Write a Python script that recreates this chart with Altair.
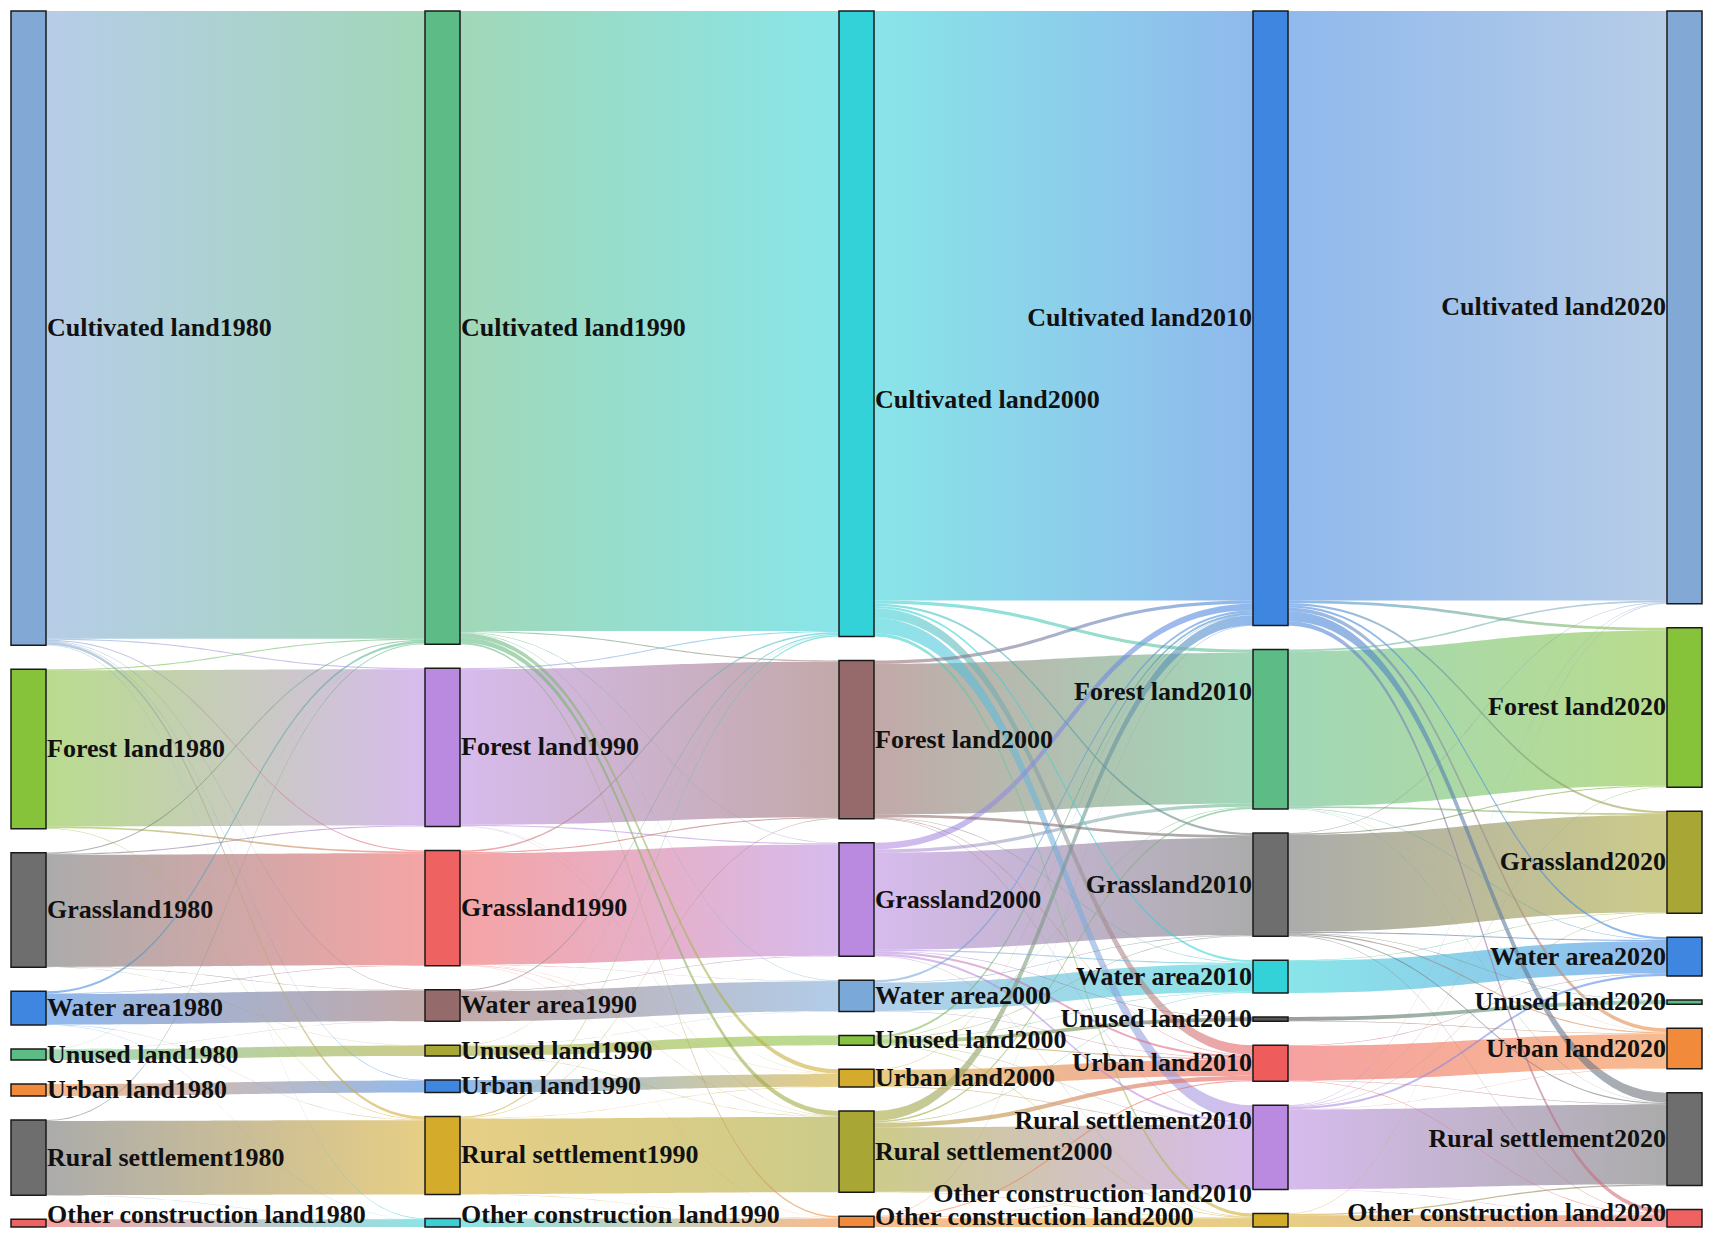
import altair as alt
import pandas as pd
import numpy as np

# ---------------- data ----------------
CATEGORIES = ["Cultivated land", "Forest land", "Grassland", "Water area",
              "Unused land", "Urban land", "Rural settlement", "Other construction land"]
YEARS = [1980, 1990, 2000, 2010, 2020]

# transition matrices (rows: source class, columns: target class), estimated areas
FLOW_1980_1990 = [
    [575, 1, 1, 0.5, 0, 0.5, 2.5, 0.5],
    [1, 143, 1.5, 0, 0, 0, 0.5, 0],
    [1, 1, 102.5, 0.3, 0.2, 0, 0, 0],
    [2, 0, 0.5, 28, 0, 0, 0.3, 0.2],
    [0.2, 0, 0, 0.2, 9.6, 0, 0, 0],
    [0, 0, 0, 0, 0, 11, 0, 0],
    [0.8, 0, 0, 0, 0, 0, 68, 0.2],
    [0, 0, 0, 0, 0, 0, 0, 7],
]
FLOW_1990_2000 = [
    [568, 1, 0.5, 0.5, 0, 4, 4.5, 1.5],
    [1, 142.5, 1, 0, 0, 0.2, 0.3, 0],
    [1.5, 1, 102, 0.3, 0, 0.2, 0.3, 0.2],
    [1, 0, 0.5, 27.5, 0, 0, 0, 0],
    [0.3, 0, 0, 0.2, 9, 0, 0.3, 0],
    [0, 0, 0, 0, 0, 11.5, 0, 0],
    [1.2, 0.5, 0, 0, 0, 0.3, 69, 0.3],
    [0, 0, 0, 0, 0, 0, 0, 7.9],
]
FLOW_2000_2010 = [
    [540, 3, 2, 2, 0, 9, 14, 3],
    [3, 138, 2.5, 0.5, 0, 0.5, 0.5, 0],
    [6, 3, 89, 1, 0.5, 2, 2, 0.5],
    [2, 0, 0.5, 25.5, 0, 0.5, 0, 0],
    [2, 0.5, 0.5, 0.5, 3.5, 1, 0.5, 0.5],
    [0.5, 0, 0, 0, 0, 15, 0.7, 0],
    [9, 1.5, 0, 0.5, 0, 4, 59, 0.4],
    [0.5, 0, 0, 0, 0, 1, 0.4, 8],
]
FLOW_2010_2020 = [
    [540, 2.5, 2, 2, 0, 3.5, 9, 4],
    [1.5, 142, 1.5, 0.5, 0, 0.2, 0.3, 0],
    [0.5, 1, 89, 1, 0.5, 1, 1, 0.5],
    [0, 0, 0.5, 29.5, 0, 0, 0, 0],
    [0, 0, 0, 0, 3.5, 0.5, 0, 0],
    [0, 0, 0, 0.5, 0, 31.5, 0.5, 0.5],
    [0.5, 0.5, 0.5, 2, 0, 0.3, 73, 0.3],
    [0.5, 0, 0, 0, 0, 0, 1.2, 10.7],
]
FLOWS = [FLOW_1980_1990, FLOW_1990_2000, FLOW_2000_2010, FLOW_2010_2020]

COLORS_1980 = ["#82a8d6", "#86c23a", "#6e6e6e", "#3f86e0", "#5dbb85", "#f28a3c", "#6e6e6e", "#ee6262"]
COLORS_1990 = ["#5dbb85", "#b98ae0", "#ee6262", "#956a6a", "#a8a634", "#3f86e0", "#d5ab2c", "#3ccfd5"]
COLORS_2000 = ["#33d2d8", "#966a6a", "#b98ae0", "#7aa8d8", "#86c240", "#d5ab2c", "#a8a634", "#f28a3c"]
COLORS_2010 = ["#3f86e0", "#5dbb85", "#6e6e6e", "#33d2d8", "#555555", "#ee5c5c", "#b98ae0", "#d5ab2c"]
COLORS_2020 = ["#82a8d6", "#86c23a", "#a8a634", "#3f86e0", "#5dbb85", "#f28a3c", "#6e6e6e", "#ee6262"]
NODE_COLORS = [COLORS_1980, COLORS_1990, COLORS_2000, COLORS_2010, COLORS_2020]

# label nudges (style only, pixels)
LABEL_NUDGE = {(0, 2): 76, (1, 3): -37, (6, 3): -26, (7, 3): -26,
               (7, 0): -8, (7, 1): -8, (7, 2): -5, (7, 4): -5}

# ---------------- layout ----------------
VIEW_W, VIEW_H = 1697, 1222
LEFT, RIGHT, TOP, BOTTOM = 11, 1702, 11, 1227
NODE_W = 35
MIN_GAP = 24
NC = len(YEARS)
NK = len(CATEGORIES)
col_x = [LEFT + c * (RIGHT - NODE_W - LEFT) / (NC - 1) for c in range(NC)]

vals = np.zeros((NC, NK))
for c in range(NC):
    for k in range(NK):
        out_v = sum(FLOWS[c][k]) if c < NC - 1 else 0
        in_v = sum(FLOWS[c - 1][i][k] for i in range(NK)) if c > 0 else 0
        vals[c, k] = max(out_v, in_v)

H = BOTTOM - TOP
ky = min((H - (NK - 1) * MIN_GAP) / vals[c].sum() for c in range(NC))
node_y0 = np.zeros((NC, NK))
node_y1 = np.zeros((NC, NK))
for c in range(NC):
    gap = (H - ky * vals[c].sum()) / (NK - 1)
    y = TOP
    for k in range(NK):
        node_y0[c, k] = y
        node_y1[c, k] = y + vals[c, k] * ky
        y = node_y1[c, k] + gap

nodes = []
for c in range(NC):
    for k in range(NK):
        nodes.append(dict(x0=col_x[c], x1=col_x[c] + NODE_W, y0=node_y0[c, k], y1=node_y1[c, k],
                          color=NODE_COLORS[c][k], col=c,
                          label=f"{CATEGORIES[k]}{YEARS[c]}",
                          ly=(node_y0[c, k] + node_y1[c, k]) / 2 + LABEL_NUDGE.get((k, c), 0),
                          lx=col_x[c] + NODE_W + 1 if c < 3 else col_x[c] - 1))
nodes_df = pd.DataFrame(nodes)

# links
T = np.linspace(0, 1, 48)


def bez(p0, p1, p2, p3, t):
    return (1 - t) ** 3 * p0 + 3 * (1 - t) ** 2 * t * p1 + 3 * (1 - t) * t ** 2 * p2 + t ** 3 * p3


links = []
for s in range(NC - 1):
    F = FLOWS[s]
    out_off = node_y0[s].copy()
    in_off = node_y0[s + 1].copy()
    src_pos = {}
    for i in range(NK):
        for j in range(NK):
            if F[i][j] > 0:
                src_pos[(i, j)] = out_off[i]
                out_off[i] += F[i][j] * ky
    tgt_pos = {}
    for j in range(NK):
        for i in range(NK):
            if F[i][j] > 0:
                tgt_pos[(i, j)] = in_off[j]
                in_off[j] += F[i][j] * ky
    for i in range(NK):
        for j in range(NK):
            if F[i][j] > 0:
                links.append(dict(s=s, i=i, j=j, v=F[i][j], sy=src_pos[(i, j)], ty=tgt_pos[(i, j)]))

# diagonal (persistent) flows first, conversions on top
links.sort(key=lambda d: (0 if d["i"] == d["j"] else 1, -d["v"]))

XS = alt.Scale(domain=[8, 8 + VIEW_W])
YS = alt.Scale(domain=[8, 8 + VIEW_H], reverse=True)
X = alt.X("x:Q", scale=XS, axis=None)
Y = alt.Y("yt:Q", scale=YS, axis=None)

layers = []
for lid, L in enumerate(links):
    s = L["s"]
    x0 = col_x[s] + NODE_W
    x1 = col_x[s + 1]
    cx = (x0 + x1) / 2
    w = L["v"] * ky
    xs = bez(x0, cx, cx, x1, T)
    yt = bez(L["sy"], L["sy"], L["ty"], L["ty"], T)
    df = pd.DataFrame({"x": xs, "yt": yt, "yb": yt + w})
    grad = alt.Gradient(
        gradient="linear",
        stops=[alt.GradientStop(color=NODE_COLORS[s][L["i"]], offset=0),
               alt.GradientStop(color=NODE_COLORS[s + 1][L["j"]], offset=1)],
        x1=0, x2=1, y1=0, y2=0)
    layers.append(
        alt.Chart(df).mark_area(color=grad, opacity=0.58, interpolate="linear").encode(
            x=X, y=Y, y2="yb:Q")
    )

node_layer = alt.Chart(nodes_df).mark_rect(stroke="#1a1a1a", strokeWidth=1.5).encode(
    x=alt.X("x0:Q", scale=XS, axis=None), x2="x1:Q",
    y=alt.Y("y0:Q", scale=YS, axis=None), y2="y1:Q",
    fill=alt.Fill("color:N", scale=None))

text_common = dict(font="Liberation Serif", fontWeight="bold", fontSize=26, color="#111111",
                   baseline="middle")
lab_left = alt.Chart(nodes_df[nodes_df.col < 3]).mark_text(align="left", **text_common).encode(
    x=alt.X("lx:Q", scale=XS, axis=None),
    y=alt.Y("ly:Q", scale=YS, axis=None),
    text="label:N")
lab_right = alt.Chart(nodes_df[nodes_df.col >= 3]).mark_text(align="right", **text_common).encode(
    x=alt.X("lx:Q", scale=XS, axis=None),
    y=alt.Y("ly:Q", scale=YS, axis=None),
    text="label:N")

chart = alt.layer(*layers, node_layer, lab_left, lab_right).properties(
    width=VIEW_W, height=VIEW_H,
    autosize=alt.AutoSizeParams(type="none"),
    padding=0,
    background="white",
).configure_view(stroke=None)

chart.save("out.html", embed_options={"renderer": "svg", "actions": False})
